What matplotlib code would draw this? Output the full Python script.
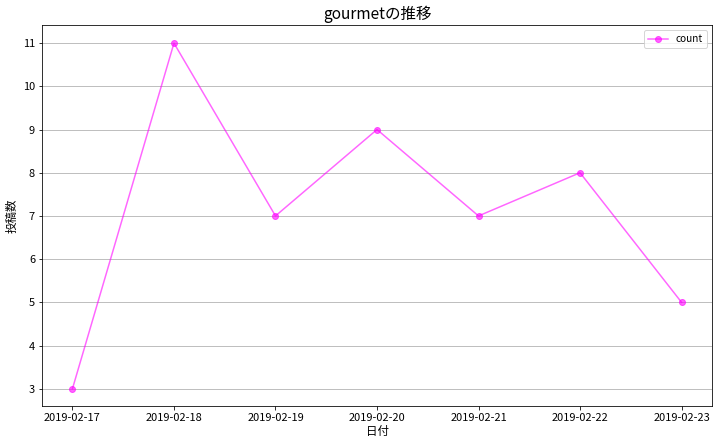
import matplotlib
matplotlib.use("Agg")
import matplotlib.pyplot as plt

plt.rcParams['font.family'] = ['Noto Sans CJK JP', 'DejaVu Sans']

dates = ["2019-02-17", "2019-02-18", "2019-02-19", "2019-02-20", "2019-02-21", "2019-02-22", "2019-02-23"]
counts = [3, 11, 7, 9, 7, 8, 5]

W, H = 722, 444
fig = plt.figure(figsize=(W / 72, H / 72), dpi=72)
ax = fig.add_axes([42 / W, 1 - 406 / H, (712 - 42) / W, (406 - 25) / H])

x = list(range(len(dates)))
ax.plot(x, counts, color='magenta', alpha=0.6, marker='o', markersize=6, label='count')
ax.set_xticks(x)
ax.set_xticklabels(dates, fontsize=11)
ax.tick_params(axis='y', labelsize=11)
ax.set_xlim(-0.3, 6.3)
ax.set_ylim(2.6, 11.42)
ax.set_yticks(range(3, 12))
ax.grid(axis='y', color='#b0b0b0', linewidth=0.8)
ax.set_axisbelow(True)
ax.set_title('gourmetの推移', fontsize=15.5)
ax.set_xlabel('日付', fontsize=11.5, labelpad=2)
ax.set_ylabel('投稿数', fontsize=11.5)
ax.legend(loc='upper right', fontsize=10)

fig.savefig('out.png', dpi=72)
